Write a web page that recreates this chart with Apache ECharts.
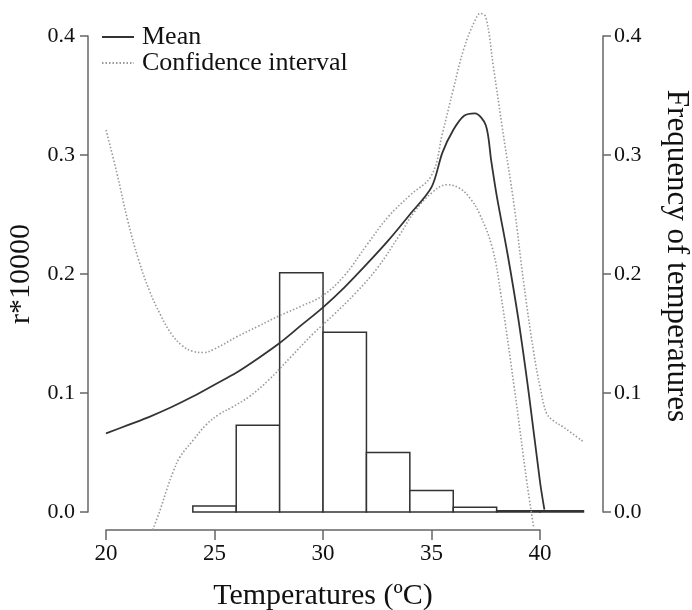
<!DOCTYPE html>
<html>
<head>
<meta charset="utf-8">
<script src="https://cdn.jsdelivr.net/npm/echarts@6/dist/echarts.min.js"></script>
<style>
html,body{margin:0;padding:0;background:#fff;}
#chart{width:692px;height:610px;}
</style>
</head>
<body>
<div id="chart"></div>
<script>
// ---- data ----
var meanX = [20, 21, 22, 23, 24, 25, 26, 27, 28, 29, 30, 31, 32, 33, 34, 35, 35.5, 36, 36.5, 37, 37.5, 37.75, 38, 38.5, 39, 39.5, 40, 40.2];
var meanY = [0.066, 0.073, 0.080, 0.088, 0.097, 0.107, 0.117, 0.129, 0.142, 0.157, 0.172, 0.189, 0.208, 0.228, 0.250, 0.273, 0.302, 0.321, 0.333, 0.335, 0.325, 0.295, 0.266, 0.217, 0.162, 0.097, 0.025, 0.002];

var ciUpperX = [20, 20.5, 21, 21.5, 22, 22.5, 23, 23.5, 24, 24.5, 25, 26, 27, 28, 29, 30, 31, 32, 33, 34, 35, 35.5, 36, 36.5, 37, 37.25, 37.5, 37.85, 38.3, 38.8, 39.25, 39.7, 40.0, 40.3, 40.6, 41.1, 42];
var ciUpperY = [0.321, 0.285, 0.245, 0.212, 0.186, 0.166, 0.150, 0.140, 0.135, 0.134, 0.137, 0.147, 0.156, 0.165, 0.173, 0.182, 0.199, 0.224, 0.248, 0.266, 0.283, 0.318, 0.355, 0.390, 0.413, 0.419, 0.416, 0.374, 0.318, 0.258, 0.192, 0.135, 0.105, 0.083, 0.077, 0.071, 0.059];

var ciLowerX = [22.15, 22.5, 22.8, 23.1, 23.4, 24, 24.6, 25.2, 25.8, 26.6, 27.5, 28.5, 29.5, 30.5, 31.5, 32.5, 33.5, 34.2, 35, 35.7, 36.3, 36.8, 37.2, 37.8, 38.2, 38.8, 39.4, 39.7];
var ciLowerY = [-0.015, 0.002, 0.019, 0.034, 0.046, 0.060, 0.073, 0.082, 0.088, 0.097, 0.111, 0.130, 0.149, 0.166, 0.184, 0.205, 0.232, 0.252, 0.268, 0.275, 0.272, 0.263, 0.251, 0.222, 0.182, 0.106, 0.024, -0.012];

var binStart = [24, 26, 28, 30, 32, 34, 36, 38, 40];
var binEnd   = [26, 28, 30, 32, 34, 36, 38, 40, 42];
var binFreq  = [0.005, 0.073, 0.201, 0.151, 0.050, 0.018, 0.004, 0.001, 0.001];

var xTickMin = 20, xTickMax = 40, xTickStep = 5;
var yMin = 0, yMax = 0.4, yStep = 0.1;

// ---- build ----
function zip(a, b) { return a.map(function (v, i) { return [v, b[i]]; }); }
var histData = binStart.map(function (s, i) { return [s, binEnd[i], binFreq[i]]; });

var FONT = '"Liberation Serif", "DejaVu Serif", serif';
var AXC = '#666';

var chart = echarts.init(document.getElementById('chart'), null, {renderer: 'canvas'});
chart.setOption({
  animation: false,
  backgroundColor: '#fff',
  textStyle: {fontFamily: FONT},
  legend: {
    orient: 'vertical',
    left: 101,
    top: 24,
    padding: 0,
    itemWidth: 32,
    itemHeight: 12,
    itemGap: 0,
    itemStyle: {opacity: 0},
    textStyle: {fontFamily: FONT, fontSize: 26, color: '#111', padding: [0, 0, 0, 3]},
    data: ['Mean', 'Confidence interval']
  },
  grid: [
    {left: 88, right: 89, top: 36, bottom: 98, containLabel: false, outerBoundsMode: 'none'},
    {left: 106, width: 434, top: 36, bottom: 80, containLabel: false, outerBoundsMode: 'none'}
  ],
  xAxis: [
    {type: 'value', gridIndex: 0, min: 19.17, max: 42.9, show: false},
    {
      type: 'value', gridIndex: 1, position: 'bottom',
      min: xTickMin, max: xTickMax, interval: xTickStep,
      name: 'Temperatures (\u00baC)', nameLocation: 'middle', nameGap: 51,
      nameTextStyle: {fontFamily: FONT, fontSize: 30, color: '#111'},
      axisLine: {show: true, lineStyle: {color: AXC, width: 1.5}},
      axisTick: {show: true, length: 10, lineStyle: {color: AXC, width: 1.5}},
      axisLabel: {fontFamily: FONT, fontSize: 23, color: '#111', margin: 12},
      splitLine: {show: false}
    }
  ],
  yAxis: [
    {
      type: 'value', gridIndex: 0, position: 'left',
      min: yMin, max: yMax, interval: yStep,
      name: 'r*10000', nameLocation: 'middle', nameGap: 44, nameRotate: 90,
      nameTextStyle: {fontFamily: FONT, fontSize: 30, color: '#111'},
      axisLine: {show: true, lineStyle: {color: AXC, width: 1.5}},
      axisTick: {show: true, length: 8, lineStyle: {color: AXC, width: 1.5}},
      axisLabel: {fontFamily: FONT, fontSize: 22, color: '#111', margin: 13,
        formatter: function (v) { return v.toFixed(1); }},
      splitLine: {show: false}
    },
    {
      type: 'value', gridIndex: 0, position: 'right',
      min: yMin, max: yMax, interval: yStep,
      name: 'Frequency of temperatures', nameLocation: 'middle', nameGap: 58, nameRotate: -90,
      nameTextStyle: {fontFamily: FONT, fontSize: 31, color: '#111', padding: [0, 36, 0, 0]},
      axisLine: {show: true, lineStyle: {color: AXC, width: 1.5}},
      axisTick: {show: true, length: 8, lineStyle: {color: AXC, width: 1.5}},
      axisLabel: {fontFamily: FONT, fontSize: 22, color: '#111', margin: 11,
        formatter: function (v) { return v.toFixed(1); }},
      splitLine: {show: false}
    },
    {type: 'value', gridIndex: 1, show: false, min: 0, max: 1}
  ],
  series: [
    {
      name: 'Frequency', type: 'custom', xAxisIndex: 0, yAxisIndex: 1,
      encode: {x: [0, 1], y: 2},
      z: 1,
      data: histData,
      renderItem: function (params, api) {
        var p0 = api.coord([api.value(0), api.value(2)]);
        var p1 = api.coord([api.value(1), 0]);
        return {
          type: 'rect',
          shape: {x: p0[0], y: p0[1], width: p1[0] - p0[0], height: p1[1] - p0[1]},
          style: {fill: '#fff', stroke: '#333', lineWidth: 1.5}
        };
      }
    },
    {
      name: 'Confidence interval', type: 'line', xAxisIndex: 0, yAxisIndex: 0,
      data: zip(ciUpperX, ciUpperY), smooth: 0.4, symbol: 'none', clip: false, z: 3,
      itemStyle: {color: '#999'},
      lineStyle: {color: '#999', width: 1.6, type: [1.5, 2]}
    },
    {
      name: 'Confidence interval', type: 'line', xAxisIndex: 0, yAxisIndex: 0,
      data: zip(ciLowerX, ciLowerY), smooth: 0.4, symbol: 'none', clip: false, z: 3,
      itemStyle: {color: '#999'},
      lineStyle: {color: '#999', width: 1.6, type: [1.5, 2]}
    },
    {
      name: 'Mean', type: 'line', xAxisIndex: 0, yAxisIndex: 0,
      data: zip(meanX, meanY), smooth: 0.3, symbol: 'none', clip: false, z: 4,
      itemStyle: {color: '#333'},
      lineStyle: {color: '#333', width: 1.8}
    }
  ]
});
</script>
</body>
</html>
